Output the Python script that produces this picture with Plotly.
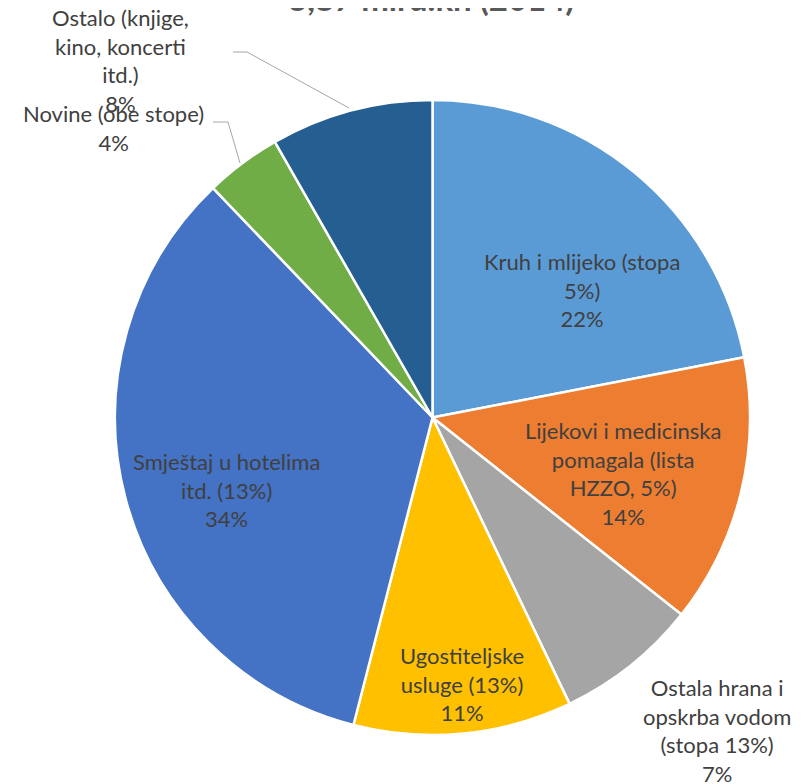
import plotly.graph_objects as go

# udio u iznosu (mlrd. kn), 3,87 mlrd. kn ukupno
categories = ['Kruh i mlijeko (stopa<br>5%)',
              'Lijekovi i medicinska<br>pomagala (lista<br>HZZO, 5%)',
              'Ostala hrana i<br>opskrba vodom<br>(stopa 13%)',
              'Ugostiteljske<br>usluge (13%)',
              'Smještaj u hotelima<br>itd. (13%)',
              'Novine (obe stope)',
              'Ostalo (knjige,<br>kino, koncerti<br>itd.)']
values = [0.85, 0.53, 0.28, 0.43, 1.31, 0.15, 0.32]
colors = ['#5B9BD5', '#ED7D31', '#A5A5A5', '#FFC000', '#4472C4', '#70AD47', '#255E91']
title = '3,87 mlrd.kn (2014)'

W, H = 809, 784
L, R, T, B = 107, 67, 92, 57
pw, ph = W - L - R, H - T - B
OFF = 8  # margina stranice

def px(x):
    return (x - OFF - L) / pw

def py(y):
    return 1 - (y - OFF - T) / ph

# polozaj oznaka (sredina bloka teksta, pikseli na slici)
label_pos = [(582, 290), (623, 473), (717, 730), (462, 684), (226, 490), (113, 128), (120, 61)]

fig = go.Figure(go.Pie(
    labels=categories, values=values, sort=False, direction='clockwise', rotation=0,
    marker=dict(colors=colors, line=dict(color='white', width=2.5)),
    textinfo='none', hoverinfo='label+percent', showlegend=False,
))

total = sum(values)
for cat, v, (x, y) in zip(categories, values, label_pos):
    fig.add_annotation(x=px(x), y=py(y), xref='paper', yref='paper', showarrow=False,
                       text=f'{cat}<br>{round(v / total * 100)}%', align='center',
                       xanchor='center', yanchor='middle',
                       font=dict(family='Lato', size=22, color='#404040'))

fig.add_annotation(x=px(431), y=py(-2), xref='paper', yref='paper', showarrow=False,
                   text=f'<b>{title}</b>', xanchor='center', yanchor='middle',
                   font=dict(family='Lato', size=33, color='#595959'))

# vodece linije
line = dict(color='#A6A6A6', width=1)
fig.add_shape(type='path', xref='paper', yref='paper', line=line,
              path=f'M {px(233)} {py(52)} L {px(247)} {py(52)} L {px(349)} {py(108)}')
fig.add_shape(type='path', xref='paper', yref='paper', line=line,
              path=f'M {px(213)} {py(122)} L {px(228)} {py(122)} L {px(240)} {py(163)}')

fig.update_layout(width=W, height=H, margin=dict(l=L, r=R, t=T, b=B),
                  paper_bgcolor='white', plot_bgcolor='white')
fig.write_html('out.html')
